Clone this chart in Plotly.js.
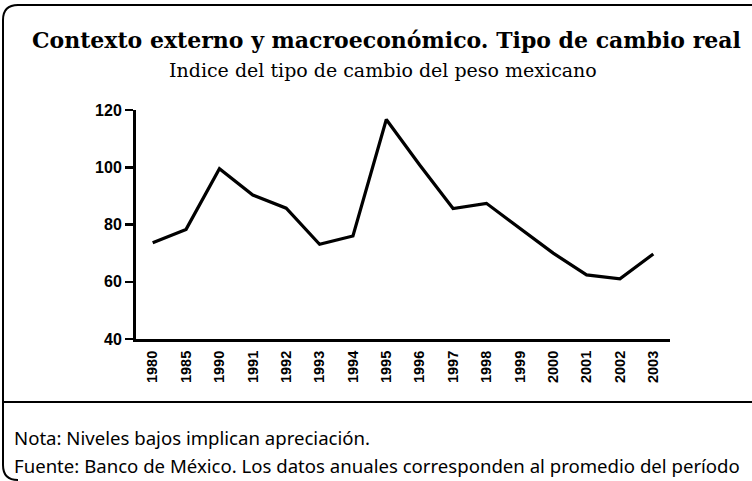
<!DOCTYPE html>
<html>
<head>
<meta charset="utf-8">
<script src="https://cdn.plot.ly/plotly-3.0.1.min.js"></script>
<style>html,body{margin:0;padding:0;background:#fff;}#chart{width:752px;height:481px;}</style>
</head>
<body>
<div id="chart"></div>
<script>
// Data
const years = ["1980","1985","1990","1991","1992","1993","1994","1995","1996","1997","1998","1999","2000","2001","2002","2003"];
const indexValues = [73.6, 78.3, 99.5, 90.3, 85.7, 73.1, 76.0, 116.7, 100.8, 85.6, 87.4, 78.6, 70.0, 62.4, 61.0, 69.7];
const yTicks = [40, 60, 80, 100, 120];

const titleText = "Contexto externo y macroeconómico. Tipo de cambio real";
const subtitleText = "Indice del tipo de cambio del peso mexicano";
const noteText = "Nota: Niveles bajos implican apreciación.";
const sourceText = "Fuente: Banco de México. Los datos anuales corresponden al promedio del período";

// Layout geometry (pixels)
const W = 752, H = 481;
const mL = 136, mR = 82, mT = 110, mB = 142;
const pw = W - mL - mR, ph = H - mT - mB;
const px = x => (x - mL) / pw;
const py = y => 1 - (y - mT) / ph;

const framePath = [
  "M", px(752), py(5),
  "L", px(18), py(5),
  "Q", px(3), py(5), px(3), py(20),
  "L", px(3), py(465),
  "Q", px(3), py(480), px(18), py(480)
].join(" ");

const trace = {
  x: years,
  y: indexValues,
  type: "scatter",
  mode: "lines",
  line: {color: "#000", width: 3.2},
  hoverinfo: "skip"
};

const layout = {
  width: W, height: H,
  margin: {l: mL, r: mR, t: mT, b: mB, pad: 0},
  paper_bgcolor: "#fff",
  plot_bgcolor: "#fff",
  showlegend: false,
  xaxis: {
    type: "category",
    range: [-0.5, years.length - 0.5],
    showgrid: false, zeroline: false,
    showline: true, linecolor: "#000", linewidth: 3,
    ticks: "", tickangle: -90,
    tickfont: {family: "Liberation Sans", size: 14.5, color: "#000", weight: "bold"},
    ticklabelstandoff: 3
  },
  yaxis: {
    range: [40, 120],
    tickvals: yTicks,
    showgrid: false, zeroline: false,
    showline: true, linecolor: "#000", linewidth: 3,
    ticks: "outside", ticklen: 8, tickwidth: 2.5, tickcolor: "#000",
    tickfont: {family: "Liberation Sans", size: 16, color: "#000", weight: "bold"},
    ticklabelstandoff: 0
  },
  shapes: [
    {type: "path", xref: "paper", yref: "paper", path: framePath, line: {color: "#000", width: 2}},
    {type: "line", xref: "paper", yref: "paper", x0: px(3), x1: px(752), y0: py(402), y1: py(402), line: {color: "#000", width: 2}}
  ],
  annotations: [
    {text: "<b>" + titleText + "</b>", xref: "paper", yref: "paper", x: px(386), y: py(40), xanchor: "center", yanchor: "middle", showarrow: false,
     font: {family: "DejaVu Serif", size: 22, color: "#000"}},
    {text: subtitleText, xref: "paper", yref: "paper", x: px(383), y: py(70), xanchor: "center", yanchor: "middle", showarrow: false,
     font: {family: "DejaVu Serif", size: 19, color: "#000"}},
    {text: noteText, xref: "paper", yref: "paper", x: px(12), y: py(437), xanchor: "left", yanchor: "middle", showarrow: false,
     font: {family: "Noto Sans", size: 18.6, color: "#000"}},
    {text: sourceText, xref: "paper", yref: "paper", x: px(12), y: py(465), xanchor: "left", yanchor: "middle", showarrow: false,
     font: {family: "Noto Sans", size: 18.6, color: "#000"}}
  ]
};

Plotly.newPlot("chart", [trace], layout, {displayModeBar: false, staticPlot: true});
</script>
</body>
</html>
